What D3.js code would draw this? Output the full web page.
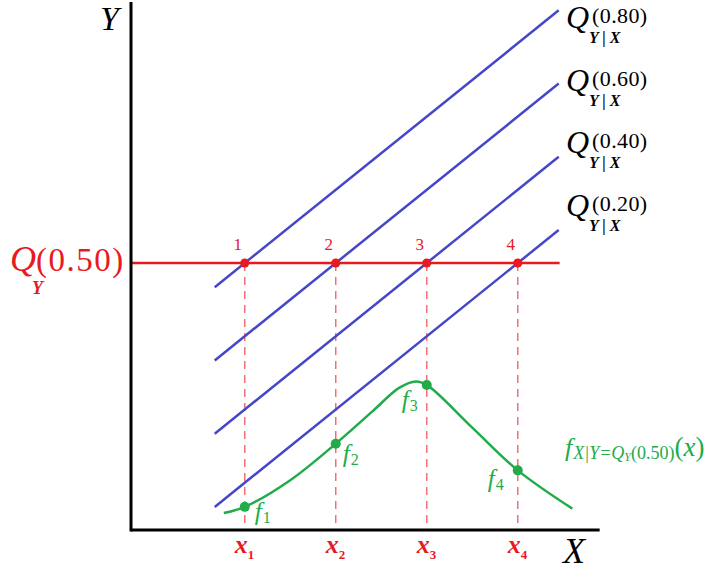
<!DOCTYPE html>
<html>
<head>
<meta charset="utf-8">
<script src="https://cdn.jsdelivr.net/npm/d3@7"></script>
<style>
  body { margin: 0; background: #fff; }
  svg { display: block; }
  text { font-family: "Liberation Serif", "DejaVu Serif", serif; }
</style>
</head>
<body>
<div id="chart"></div>
<script>
// quantile regression lines Q_{Y|X}(tau) = a + b*X
var taus = ["0.80", "0.60", "0.40", "0.20"];
var intercepts = [2.177, 1.354, 0.531, -0.292];
var slope = 0.823;
var lineX = [0.67, 4.45];

// marginal quantile of Y
var qY50 = 3;

// the four crossing points
var xPoints = [1, 2, 3, 4];
var xNames = ["1", "2", "3", "4"];

// conditional density f_{X|Y=Q_Y(0.50)}(x)
var densX = [0.77, 1.0, 1.5, 2.0, 2.4, 2.7, 2.88, 3.0, 3.5, 4.0, 4.6];
var densY = [0.19, 0.26, 0.56, 0.97, 1.33, 1.60, 1.67, 1.63, 1.15, 0.67, 0.24];
var fAtX = [0.26, 0.97, 1.63, 0.67];

var width = 717, height = 573;
var red = "#e8191f", blue = "#4646c8", green = "#21ab4b", pink = "#f07078";

var x = d3.scaleLinear().domain([-0.25, 4.9]).range([131, 599.65]);
var y = d3.scaleLinear().domain([0, 5.933]).range([530, 2]);

var svg = d3.select("#chart").append("svg")
    .attr("width", width)
    .attr("height", height);

//dashed drop lines
svg.selectAll(".drop").data(xPoints).enter().append("line")
    .attr("x1", function(d){ return x(d); })
    .attr("x2", function(d){ return x(d); })
    .attr("y1", y(qY50))
    .attr("y2", y(0))
    .attr("stroke", pink)
    .attr("stroke-width", 1.5)
    .attr("stroke-dasharray", "8,6");

//blue quantile lines
svg.selectAll(".qline").data(intercepts).enter().append("line")
    .attr("x1", x(lineX[0]))
    .attr("x2", x(lineX[1]))
    .attr("y1", function(a){ return y(a + slope * lineX[0]); })
    .attr("y2", function(a){ return y(a + slope * lineX[1]); })
    .attr("stroke", blue)
    .attr("stroke-width", 2.5);

//red horizontal line
svg.append("line")
    .attr("x1", x(-0.25))
    .attr("x2", x(4.46))
    .attr("y1", y(qY50))
    .attr("y2", y(qY50))
    .attr("stroke", red)
    .attr("stroke-width", 2.5);

svg.selectAll(".rdot").data(xPoints).enter().append("circle")
    .attr("cx", function(d){ return x(d); })
    .attr("cy", y(qY50))
    .attr("r", 4.5)
    .attr("fill", red);

svg.selectAll(".rnum").data(xPoints).enter().append("text")
    .attr("x", function(d){ return x(d) - 7; })
    .attr("y", y(qY50) - 13)
    .attr("text-anchor", "middle")
    .attr("font-size", 17)
    .attr("fill", red)
    .text(function(d, i){ return xNames[i]; });

//density curve
var dens = densX.map(function(d, i){ return [d, densY[i]]; });
svg.append("path")
    .datum(dens)
    .attr("d", d3.line()
        .x(function(d){ return x(d[0]); })
        .y(function(d){ return y(d[1]); })
        .curve(d3.curveCatmullRom))
    .attr("fill", "none")
    .attr("stroke", green)
    .attr("stroke-width", 2.5);

svg.selectAll(".gdot").data(xPoints).enter().append("circle")
    .attr("cx", function(d){ return x(d); })
    .attr("cy", function(d, i){ return y(fAtX[i]); })
    .attr("r", 5)
    .attr("fill", green);

// f labels (offsets relative to the dot)
var fOff = [[10, 13], [7, 18], [-25, 23], [-30, 17]];
svg.selectAll(".flab").data(xPoints).enter().append("text")
    .attr("x", function(d, i){ return x(d) + fOff[i][0]; })
    .attr("y", function(d, i){ return y(fAtX[i]) + fOff[i][1]; })
    .attr("fill", green)
    .attr("font-size", 25)
    .attr("font-style", "italic")
    .each(function(d, i){
        var t = d3.select(this);
        t.append("tspan").text("f");
        t.append("tspan").attr("font-size", 16).attr("font-style", "normal").attr("dx", 1).attr("dy", 3).text(xNames[i]);
    });

//density label
var dl = svg.append("text")
    .attr("x", 565)
    .attr("y", 456)
    .attr("fill", green)
    .attr("font-size", 26);
dl.append("tspan").attr("font-style", "italic").text("f");
dl.append("tspan").attr("font-size", 18).attr("font-style", "italic").attr("dx", 1).attr("dy", 3).text("X|Y=Q");
dl.append("tspan").attr("font-size", 12).attr("font-style", "italic").attr("dy", 2).text("Y");
dl.append("tspan").attr("font-size", 18).attr("dy", -2).text("(0.50)");
dl.append("tspan").attr("font-size", 27).attr("dy", -3).text("(");
dl.append("tspan").attr("font-size", 27).attr("font-style", "italic").text("x");
dl.append("tspan").attr("font-size", 27).text(")");

//axes
svg.append("line")
    .attr("x1", x(-0.25)).attr("x2", x(-0.25))
    .attr("y1", y(5.933)).attr("y2", y(0) + 1.5)
    .attr("stroke", "#000").attr("stroke-width", 3);
svg.append("line")
    .attr("x1", x(-0.25)).attr("x2", x(4.9))
    .attr("y1", y(0)).attr("y2", y(0))
    .attr("stroke", "#000").attr("stroke-width", 3);

svg.append("text").attr("x", 100).attr("y", 30)
    .attr("font-size", 34).attr("font-style", "italic").text("Y");
svg.append("text").attr("x", 563).attr("y", 563)
    .attr("font-size", 36).attr("font-style", "italic").text("X");

//x_i labels
svg.selectAll(".xlab").data(xPoints).enter().append("text")
    .attr("x", function(d){ return x(d) - 10; })
    .attr("y", 553)
    .attr("fill", red)
    .attr("font-size", 26)
    .attr("font-weight", "bold")
    .attr("font-style", "italic")
    .each(function(d, i){
        var t = d3.select(this);
        t.append("tspan").text("x");
        t.append("tspan").attr("font-size", 13).attr("font-style", "normal").attr("dy", 6).text(xNames[i]);
    });

//Q_Y(0.50) label
var ql = svg.append("text").attr("x", 10).attr("y", 271).attr("fill", red);
ql.append("tspan").attr("font-size", 36).attr("font-style", "italic").text("Q");
ql.append("tspan").attr("font-size", 33).attr("letter-spacing", 1.5).text("(0.50)");
svg.append("text").attr("x", 32).attr("y", 294).attr("fill", red)
    .attr("font-size", 18).attr("font-weight", "bold").attr("font-style", "italic").text("Y");

//quantile line labels
var labTop = [0, 63, 125, 188];
taus.forEach(function(t, i){
    var g = svg.append("g").attr("transform", "translate(566," + labTop[i] + ")");
    g.append("text").attr("x", 0).attr("y", 28)
        .attr("font-size", 32).attr("font-style", "italic").text("Q");
    g.append("text").attr("x", 26).attr("y", 23)
        .attr("font-size", 22).attr("letter-spacing", 0.4).text("(" + t + ")");
    g.append("text").attr("x", 23).attr("y", 43)
        .attr("font-size", 16).attr("font-weight", "bold").attr("font-style", "italic")
        .attr("xml:space", "preserve").text("Y | X");
});
</script>
</body>
</html>
